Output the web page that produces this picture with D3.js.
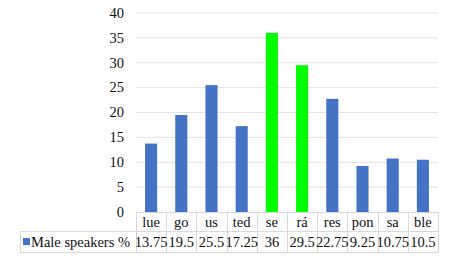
<!DOCTYPE html>
<html><head><meta charset="utf-8">
<script src="https://cdn.jsdelivr.net/npm/d3@7"></script>
<style>body{margin:0;background:#fff}svg{display:block}</style>
</head><body>
<script>
const categories = ["lue","go","us","ted","se","rá","res","pon","sa","ble"];
const values = [13.75,19.5,25.5,17.25,36,29.5,22.75,9.25,10.75,10.5];
const valueLabels = ["13.75","19.5","25.5","17.25","36","29.5","22.75","9.25","10.75","10.5"];
const highlighted = ["se","rá"];
const seriesName = "Male speakers %";
const yTicks = [0,5,10,15,20,25,30,35,40];

(function(){
const W = 450, H = 258;
const svg = d3.select("body").append("svg").attr("width", W).attr("height", H);
const FF = '"Liberation Serif"';
const FS = "14.5px";
const txt = sel => sel.style("font-family", FF).style("font-size", FS).style("fill", "#111");
const pLeft = 136, pRight = 438, pTop = 13, pBottom = 212;
const row1 = 231, row2 = 252, legendLeft = 20;

const x = d3.scaleBand().domain(categories).range([pLeft, pRight]).paddingInner(0.6).paddingOuter(0.3);
const xb = d3.scaleBand().domain(categories).range([pLeft, pRight]);
const y = d3.scaleLinear().domain([0, 40]).range([pBottom, pTop]);

svg.append("g").selectAll("line").data(yTicks.filter(d => d > 0)).join("line")
  .attr("x1", pLeft).attr("x2", pRight)
  .attr("y1", d => y(d)).attr("y2", d => y(d))
  .attr("stroke", "#e3e3e3").attr("stroke-width", 1);

svg.append("g").selectAll("text").data(yTicks).join("text")
  .attr("x", 124).attr("y", d => y(d)).attr("dy", "0.33em")
  .attr("text-anchor", "end").text(d => d).call(txt);

svg.append("g").selectAll("rect").data(categories).join("rect")
  .attr("x", (d) => x(d)).attr("width", x.bandwidth())
  .attr("y", (d, i) => y(values[i])).attr("height", (d, i) => y(0) - y(values[i]))
  .attr("fill", d => highlighted.includes(d) ? "#00ff00" : "#4472c4");

const g = svg.append("g").attr("stroke", "#d9d9d9").attr("stroke-width", 1).attr("fill", "none");
g.append("line").attr("x1", pLeft).attr("x2", pRight).attr("y1", pBottom + 0.5).attr("y2", pBottom + 0.5);
g.append("line").attr("x1", legendLeft).attr("x2", pRight).attr("y1", row1 + 0.5).attr("y2", row1 + 0.5);
g.append("line").attr("x1", legendLeft).attr("x2", pRight).attr("y1", row2 + 0.5).attr("y2", row2 + 0.5);
g.append("line").attr("x1", legendLeft + 0.5).attr("x2", legendLeft + 0.5).attr("y1", row1).attr("y2", row2);
const edges = categories.map(c => xb(c)).concat([pRight]);
g.selectAll(".v").data(edges).join("line")
  .attr("x1", d => Math.round(d) + 0.5).attr("x2", d => Math.round(d) + 0.5)
  .attr("y1", pBottom).attr("y2", row2);

svg.append("g").selectAll("text").data(categories).join("text")
  .attr("x", d => xb(d) + xb.bandwidth() / 2).attr("y", (pBottom + row1) / 2 + 1).attr("dy", "0.33em")
  .attr("text-anchor", "middle").text(d => d).call(txt);

svg.append("g").selectAll("text").data(categories).join("text")
  .attr("x", d => xb(d) + xb.bandwidth() / 2).attr("y", (row1 + row2) / 2 + 1).attr("dy", "0.33em")
  .attr("text-anchor", "middle").text((d, i) => valueLabels[i]).call(txt);

svg.append("rect").attr("x", 23).attr("y", 238).attr("width", 7).attr("height", 7).attr("fill", "#4472c4");
svg.append("text").attr("x", 31).attr("y", (row1 + row2) / 2 + 1).attr("dy", "0.33em").text(seriesName).call(txt);
})();
</script>
</body></html>
